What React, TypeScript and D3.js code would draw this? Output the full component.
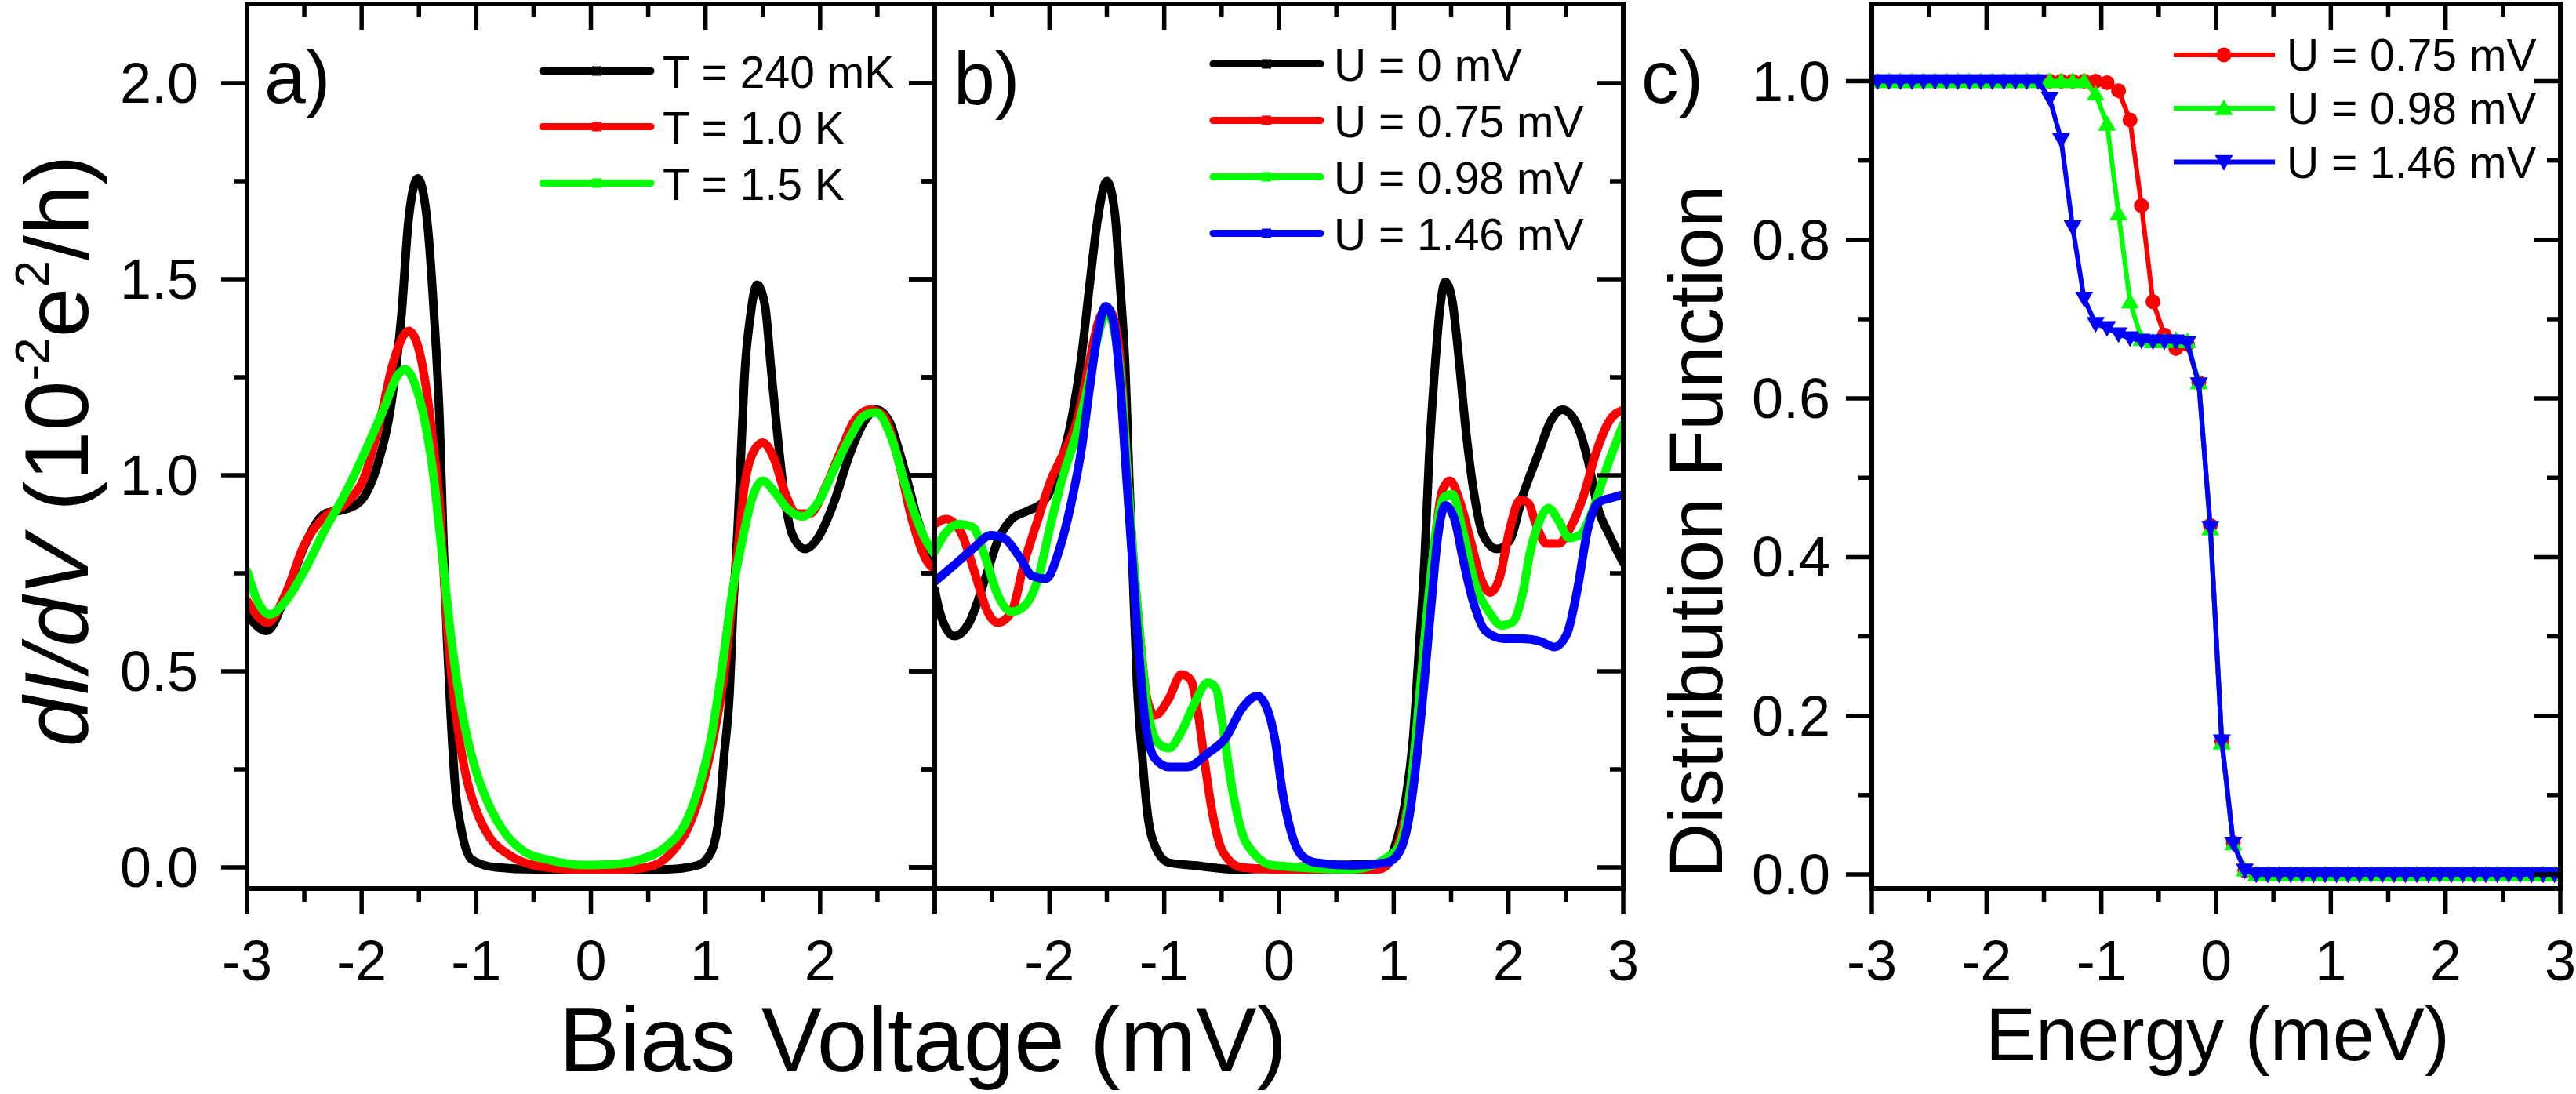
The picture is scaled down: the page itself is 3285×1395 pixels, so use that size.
import React from 'react';
import * as d3 from 'd3';

// ---------------- data ----------------
// axis ticks
const biasMajor = [-3, -2, -1, 0, 1, 2, 3];
const biasMinor = [-2.5, -1.5, -0.5, 0.5, 1.5, 2.5];
const labelsA = [-3, -2, -1, 0, 1, 2];
const labelsB = [-2, -1, 0, 1, 2, 3];
const labelsC = [-3, -2, -1, 0, 1, 2, 3];
const gMajor = [0, 0.5, 1.0, 1.5, 2.0];
const gMinor = [0.25, 0.75, 1.25, 1.75];
const fMajor = [0, 0.2, 0.4, 0.6, 0.8, 1.0];
const fMinor = [0.1, 0.3, 0.5, 0.7, 0.9];

// panel a) temperature series
const aV_240 = [-3.0, -2.83, -2.66, -2.5, -2.32, -2.13, -2.0, -1.86, -1.75, -1.65, -1.59, -1.51, -1.43, -1.37, -1.32, -1.29, -1.255, -1.22, -1.18, -1.13, -1.04, -0.83, -0.49, 0.0, 0.66, 0.93, 1.05, 1.12, 1.16, 1.21, 1.24, 1.28, 1.31, 1.34, 1.39, 1.45, 1.52, 1.57, 1.63, 1.69, 1.76, 1.87, 1.98, 2.12, 2.26, 2.39, 2.49, 2.6, 2.71, 2.85, 2.96, 3.0];
const aG_240 = [0.645, 0.603, 0.694, 0.819, 0.902, 0.914, 0.937, 1.028, 1.167, 1.417, 1.653, 1.757, 1.653, 1.417, 1.139, 0.861, 0.583, 0.374, 0.193, 0.096, 0.02, 0.0, -0.005, -0.005, -0.005, 0.005, 0.04, 0.138, 0.277, 0.444, 0.652, 0.861, 1.055, 1.25, 1.403, 1.486, 1.431, 1.278, 1.097, 0.944, 0.847, 0.812, 0.84, 0.93, 1.055, 1.139, 1.167, 1.139, 1.041, 0.888, 0.791, 0.756];
const aV_1K = [-3.0, -2.82, -2.66, -2.5, -2.32, -2.13, -1.97, -1.84, -1.72, -1.59, -1.5, -1.43, -1.37, -1.31, -1.27, -1.21, -1.15, -1.08, -0.99, -0.88, -0.72, -0.49, -0.15, 0.32, 0.55, 0.71, 0.84, 0.96, 1.07, 1.16, 1.23, 1.29, 1.34, 1.41, 1.5, 1.6, 1.69, 1.8, 1.91, 2.05, 2.17, 2.3, 2.44, 2.55, 2.67, 2.8, 2.94, 3.0];
const aG_1K = [0.68, 0.624, 0.7, 0.823, 0.895, 0.93, 1.0, 1.139, 1.292, 1.368, 1.32, 1.208, 1.069, 0.888, 0.68, 0.471, 0.332, 0.221, 0.138, 0.075, 0.033, 0.005, -0.005, -0.005, 0.005, 0.04, 0.096, 0.193, 0.332, 0.485, 0.666, 0.833, 0.972, 1.055, 1.083, 1.041, 0.958, 0.902, 0.902, 0.972, 1.055, 1.139, 1.167, 1.153, 1.055, 0.888, 0.777, 0.76];
const aV_15K = [-3.0, -2.91, -2.8, -2.66, -2.5, -2.32, -2.16, -2.0, -1.81, -1.68, -1.62, -1.54, -1.45, -1.38, -1.31, -1.24, -1.18, -1.11, -1.02, -0.9, -0.77, -0.58, -0.38, -0.04, 0.2, 0.43, 0.66, 0.82, 0.93, 1.05, 1.14, 1.23, 1.32, 1.41, 1.5, 1.6, 1.71, 1.85, 1.98, 2.12, 2.26, 2.39, 2.49, 2.62, 2.76, 2.9, 3.0];
const aG_15K = [0.756, 0.68, 0.645, 0.68, 0.756, 0.861, 0.944, 1.041, 1.167, 1.257, 1.27, 1.236, 1.139, 1.014, 0.833, 0.638, 0.499, 0.374, 0.263, 0.166, 0.096, 0.04, 0.02, 0.006, 0.008, 0.02, 0.054, 0.11, 0.193, 0.332, 0.499, 0.694, 0.833, 0.944, 0.986, 0.958, 0.916, 0.895, 0.93, 1.014, 1.097, 1.153, 1.16, 1.097, 0.958, 0.847, 0.798];

// panel b) bias-U series
const bV_0 = [-3.0, -2.95, -2.83, -2.7, -2.56, -2.45, -2.33, -2.19, -2.06, -1.92, -1.81, -1.72, -1.65, -1.58, -1.5, -1.43, -1.385, -1.34, -1.306, -1.27, -1.237, -1.19, -1.146, -1.08, -0.96, -0.74, -0.39, 0.42, 0.94, 1.01, 1.1, 1.17, 1.22, 1.27, 1.31, 1.36, 1.405, 1.45, 1.51, 1.565, 1.62, 1.69, 1.78, 1.9, 2.01, 2.12, 2.26, 2.37, 2.47, 2.58, 2.69, 2.78, 2.88, 3.0];
const bG_0 = [0.708, 0.645, 0.59, 0.624, 0.736, 0.833, 0.888, 0.909, 0.93, 1.014, 1.139, 1.306, 1.486, 1.653, 1.75, 1.667, 1.486, 1.278, 1.0, 0.722, 0.471, 0.277, 0.138, 0.054, 0.012, 0.005, -0.005, 0.005, 0.01, 0.054, 0.166, 0.332, 0.555, 0.791, 1.055, 1.278, 1.431, 1.493, 1.445, 1.306, 1.139, 0.972, 0.847, 0.812, 0.833, 0.944, 1.055, 1.139, 1.167, 1.139, 1.041, 0.916, 0.847, 0.777];
const bV_075 = [-3.0, -2.9, -2.76, -2.65, -2.54, -2.45, -2.33, -2.22, -2.1, -1.99, -1.88, -1.76, -1.65, -1.56, -1.49, -1.42, -1.36, -1.32, -1.27, -1.21, -1.15, -1.08, -0.96, -0.85, -0.77, -0.71, -0.645, -0.58, -0.49, -0.33, -0.05, 0.87, 0.98, 1.075, 1.17, 1.235, 1.3, 1.36, 1.42, 1.49, 1.58, 1.67, 1.76, 1.84, 1.92, 2.01, 2.1, 2.17, 2.24, 2.33, 2.44, 2.53, 2.65, 2.76, 2.88, 3.0];
const bG_075 = [0.875, 0.888, 0.847, 0.75, 0.652, 0.624, 0.652, 0.777, 0.888, 0.986, 1.055, 1.139, 1.292, 1.403, 1.424, 1.375, 1.208, 1.0, 0.791, 0.583, 0.43, 0.388, 0.43, 0.492, 0.478, 0.402, 0.263, 0.138, 0.04, 0.0, -0.005, -0.005, 0.02, 0.096, 0.249, 0.444, 0.652, 0.833, 0.958, 0.986, 0.93, 0.833, 0.736, 0.701, 0.736, 0.861, 0.937, 0.93, 0.875, 0.826, 0.826, 0.861, 0.944, 1.055, 1.139, 1.167];
const bV_098 = [-3.0, -2.92, -2.79, -2.67, -2.56, -2.45, -2.33, -2.22, -2.1, -1.99, -1.88, -1.76, -1.65, -1.56, -1.5, -1.44, -1.37, -1.32, -1.27, -1.21, -1.15, -1.055, -0.96, -0.85, -0.74, -0.62, -0.55, -0.49, -0.42, -0.33, -0.21, -0.05, 0.64, 1.01, 1.1, 1.17, 1.235, 1.3, 1.37, 1.44, 1.51, 1.6, 1.71, 1.83, 1.94, 2.03, 2.12, 2.19, 2.26, 2.35, 2.44, 2.53, 2.62, 2.74, 2.85, 3.0];
const bG_098 = [0.805, 0.847, 0.875, 0.868, 0.791, 0.694, 0.652, 0.666, 0.736, 0.875, 1.0, 1.111, 1.25, 1.375, 1.417, 1.375, 1.22, 1.0, 0.791, 0.583, 0.416, 0.318, 0.304, 0.346, 0.416, 0.471, 0.457, 0.36, 0.221, 0.096, 0.033, 0.005, -0.005, 0.04, 0.11, 0.263, 0.471, 0.68, 0.861, 0.944, 0.951, 0.861, 0.722, 0.652, 0.617, 0.624, 0.694, 0.805, 0.875, 0.916, 0.882, 0.84, 0.847, 0.916, 1.014, 1.13];
const bV_146 = [-3.0, -2.83, -2.67, -2.51, -2.4, -2.26, -2.15, -2.03, -1.92, -1.81, -1.72, -1.65, -1.58, -1.51, -1.44, -1.385, -1.33, -1.28, -1.226, -1.16, -1.08, -0.96, -0.8, -0.62, -0.46, -0.33, -0.19, -0.1, -0.03, 0.03, 0.1, 0.19, 0.32, 0.64, 0.94, 1.05, 1.14, 1.21, 1.27, 1.33, 1.38, 1.45, 1.53, 1.6, 1.69, 1.8, 1.96, 2.12, 2.28, 2.4, 2.51, 2.6, 2.69, 2.78, 2.92, 3.0];
const bG_146 = [0.729, 0.771, 0.812, 0.847, 0.84, 0.791, 0.743, 0.736, 0.805, 0.93, 1.069, 1.222, 1.361, 1.431, 1.389, 1.236, 1.0, 0.791, 0.569, 0.36, 0.277, 0.256, 0.256, 0.291, 0.332, 0.402, 0.437, 0.402, 0.318, 0.193, 0.096, 0.033, 0.012, 0.005, 0.012, 0.04, 0.138, 0.304, 0.485, 0.68, 0.833, 0.923, 0.888, 0.791, 0.68, 0.603, 0.583, 0.583, 0.576, 0.562, 0.596, 0.708, 0.861, 0.93, 0.944, 0.951];

// panel c) distribution functions (energy grid + three series)
const cE = [-2.95, -2.85, -2.75, -2.65, -2.55, -2.45, -2.35, -2.25, -2.15, -2.05, -1.95, -1.85, -1.75, -1.65, -1.55, -1.45, -1.35, -1.25, -1.15, -1.05, -0.95, -0.85, -0.75, -0.65, -0.55, -0.45, -0.35, -0.25, -0.15, -0.05, 0.05, 0.15, 0.25, 0.35, 0.45, 0.55, 0.65, 0.75, 0.85, 0.95, 1.05, 1.15, 1.25, 1.35, 1.45, 1.55, 1.65, 1.75, 1.85, 1.95, 2.05, 2.15, 2.25, 2.35, 2.45, 2.55, 2.65, 2.75, 2.85, 2.95];
const cF_075 = [
  1, 1, 1, 1, 1, 1, 1, 1, 1, 1, 1, 1, 1, 1, 1, 1, 1, 1, 1, 1,
  0.998, 0.988, 0.951, 0.843, 0.722, 0.68, 0.663, 0.668, 0.62, 0.44, 0.168, 0.04, 0.005,
  0, 0, 0, 0, 0, 0, 0, 0, 0, 0, 0, 0, 0, 0, 0, 0, 0, 0, 0, 0, 0, 0, 0, 0, 0, 0, 0,
];
const cF_098 = [
  1, 1, 1, 1, 1, 1, 1, 1, 1, 1, 1, 1, 1, 1, 1, 1, 1, 1, 1,
  0.984, 0.946, 0.833, 0.722, 0.675, 0.672, 0.672, 0.674, 0.672, 0.62, 0.436, 0.166, 0.039, 0.006,
  0, 0, 0, 0, 0, 0, 0, 0, 0, 0, 0, 0, 0, 0, 0, 0, 0, 0, 0, 0, 0, 0, 0, 0, 0, 0, 0,
];
const cF_146 = [
  1, 1, 1, 1, 1, 1, 1, 1, 1, 1, 1, 1, 1, 1, 1,
  0.978, 0.926, 0.816, 0.726, 0.694, 0.689, 0.681, 0.676, 0.673, 0.672, 0.672, 0.672, 0.67, 0.618, 0.437, 0.168, 0.039, 0.005,
  0, 0, 0, 0, 0, 0, 0, 0, 0, 0, 0, 0, 0, 0, 0, 0, 0, 0, 0, 0, 0, 0, 0, 0, 0, 0, 0,
];

const legendA = ['T = 240 mK', 'T = 1.0 K', 'T = 1.5 K'];
const legendB = ['U = 0 mV', 'U = 0.75 mV', 'U = 0.98 mV', 'U = 1.46 mV'];
const legendC = ['U = 0.75 mV', 'U = 0.98 mV', 'U = 1.46 mV'];

const BLACK = '#000000';
const RED = '#ff0000';
const GREEN = '#00ff00';
const BLUE = '#0000ff';

const FONT = '"Liberation Sans", Arial, Helvetica, sans-serif';
const TOP = 5;
const BOTTOM = 1133;

const zip = (xs: number[], ys: number[]) => xs.map((x, i) => [x, ys[i]] as [number, number]);

function Frame({ x0, x1, xs, ys, yMaj, yMin, xLabels, yLabelFmt, yLabelX, showYLabels }: any) {
  const MAJ = 33, MIN = 17, SW = 5.5;
  const els: any[] = [];
  biasMajor.forEach((v, i) => {
    const x = xs(v);
    els.push(<line key={'bM' + i} x1={x} x2={x} y1={BOTTOM} y2={BOTTOM + MAJ} />);
    if (v > -3 && v < 3) els.push(<line key={'tM' + i} x1={x} x2={x} y1={TOP} y2={TOP + MAJ} />);
  });
  biasMinor.forEach((v, i) => {
    const x = xs(v);
    els.push(<line key={'bm' + i} x1={x} x2={x} y1={BOTTOM} y2={BOTTOM + MIN} />);
    els.push(<line key={'tm' + i} x1={x} x2={x} y1={TOP} y2={TOP + MIN} />);
  });
  yMaj.forEach((v: number, i: number) => {
    const y = ys(v);
    els.push(<line key={'lM' + i} x1={x0 - MAJ} x2={x0} y1={y} y2={y} />);
    els.push(<line key={'rM' + i} x1={x1 - MAJ} x2={x1} y1={y} y2={y} />);
  });
  yMin.forEach((v: number, i: number) => {
    const y = ys(v);
    els.push(<line key={'lm' + i} x1={x0 - MIN} x2={x0} y1={y} y2={y} />);
    els.push(<line key={'rm' + i} x1={x1 - MIN} x2={x1} y1={y} y2={y} />);
  });
  return (
    <g>
      <g stroke={BLACK} strokeWidth={SW}>{els}</g>
      <rect x={x0} y={TOP} width={x1 - x0} height={BOTTOM - TOP} fill="none" stroke={BLACK} strokeWidth={6} />
      <g fontFamily={FONT} fontSize={72} fill={BLACK} textAnchor="middle">
        {xLabels.map((v: number) => (
          <text key={'xl' + v} x={xs(v)} y={1250}>{String(v)}</text>
        ))}
      </g>
      {showYLabels && (
        <g fontFamily={FONT} fontSize={72} fill={BLACK} textAnchor="end">
          {yMaj.map((v: number) => (
            <text key={'yl' + v} x={yLabelX} y={ys(v) + 25}>{yLabelFmt(v)}</text>
          ))}
        </g>
      )}
    </g>
  );
}

export default function App() {
  const xA = d3.scaleLinear().domain([-3, 3]).range([315, 1192]);
  const xB = d3.scaleLinear().domain([-3, 3]).range([1192, 2070]);
  const xC = d3.scaleLinear().domain([-3, 3]).range([2387, 3265]);
  const yG = d3.scaleLinear().domain([0, 2]).range([1106, 106]);
  const yF = d3.scaleLinear().domain([0, 1]).range([1115, 103.5]);
  const fmt = d3.format('.1f');

  const lineA = d3.line<[number, number]>().x((d) => xA(d[0])).y((d) => yG(d[1])).curve(d3.curveMonotoneX);
  const lineB = d3.line<[number, number]>().x((d) => xB(d[0])).y((d) => yG(d[1])).curve(d3.curveMonotoneX);
  const lineC = d3.line<[number, number]>().x((d) => xC(d[0])).y((d) => yF(d[1]));

  const seriesA = [
    { d: zip(aV_240, aG_240), c: BLACK },
    { d: zip(aV_1K, aG_1K), c: RED },
    { d: zip(aV_15K, aG_15K), c: GREEN },
  ];
  const seriesB = [
    { d: zip(bV_0, bG_0), c: BLACK },
    { d: zip(bV_075, bG_075), c: RED },
    { d: zip(bV_098, bG_098), c: GREEN },
    { d: zip(bV_146, bG_146), c: BLUE },
  ];
  const seriesC = [
    { d: zip(cE, cF_075), c: RED, m: 'circle' },
    { d: zip(cE, cF_098), c: GREEN, m: 'up' },
    { d: zip(cE, cF_146), c: BLUE, m: 'down' },
  ];
  const tri = d3.symbol().type(d3.symbolTriangle).size(230)() as string;

  const marker = (m: string, x: number, y: number, c: string, k: string) => {
    if (m === 'circle') return <circle key={k} cx={x} cy={y} r={9.5} fill={c} />;
    if (m === 'up') return <path key={k} d={tri} transform={`translate(${x},${y + 2})`} fill={c} />;
    return <path key={k} d={tri} transform={`translate(${x},${y - 2}) rotate(180)`} fill={c} />;
  };

  const legendRowsA = [90.5, 161.5, 233.5];
  const legendRowsB = [81.5, 153.5, 225.5, 297.5];
  const legendRowsC = [70, 138, 206.5];

  return (
    <svg width={3285} height={1395} style={{ position: 'absolute', left: 0, top: 0, background: '#fff', display: 'block' }}>
      <rect x={0} y={0} width={3285} height={1395} fill="#fff" />
      <defs>
        <clipPath id="clipA"><rect x={315} y={TOP} width={877} height={BOTTOM - TOP} /></clipPath>
        <clipPath id="clipB"><rect x={1192} y={TOP} width={878} height={BOTTOM - TOP} /></clipPath>
        <clipPath id="clipC"><rect x={2377} y={TOP} width={898} height={BOTTOM - TOP} /></clipPath>
      </defs>

      {/* curves */}
      <g clipPath="url(#clipA)" fill="none" strokeWidth={11} strokeLinejoin="round" strokeLinecap="round">
        {seriesA.map((s, i) => <path key={i} d={lineA(s.d) as string} stroke={s.c} />)}
      </g>
      <g clipPath="url(#clipB)" fill="none" strokeWidth={11} strokeLinejoin="round" strokeLinecap="round">
        {seriesB.map((s, i) => <path key={i} d={lineB(s.d) as string} stroke={s.c} />)}
      </g>
      <g clipPath="url(#clipC)">
        {seriesC.map((s, i) => (
          <g key={i}>
            <path d={lineC(s.d) as string} fill="none" stroke={s.c} strokeWidth={6} strokeLinejoin="round" />
            {s.d.map((p, j) => marker(s.m, xC(p[0]), yF(p[1]), s.c, 'm' + j))}
          </g>
        ))}
      </g>

      {/* frames, ticks, tick labels */}
      <Frame x0={315} x1={1192} xs={xA} ys={yG} yMaj={gMajor} yMin={gMinor} xLabels={labelsA} yLabelFmt={fmt} yLabelX={253} showYLabels />
      <Frame x0={1192} x1={2070} xs={xB} ys={yG} yMaj={gMajor} yMin={gMinor} xLabels={labelsB} yLabelFmt={fmt} yLabelX={0} showYLabels={false} />
      <Frame x0={2387} x1={3265} xs={xC} ys={yF} yMaj={fMajor} yMin={fMinor} xLabels={labelsC} yLabelFmt={fmt} yLabelX={2334} showYLabels />

      {/* panel labels */}
      <g fontFamily={FONT} fontSize={95} fill={BLACK}>
        <text x={337} y={131}>a)</text>
        <text x={1216} y={133}>b)</text>
        <text x={2093} y={131}>c)</text>
      </g>

      {/* legends */}
      <g fontFamily={FONT} fontSize={57} fill={BLACK}>
        {legendA.map((t, i) => (
          <g key={'la' + i}>
            <line x1={692} x2={830} y1={legendRowsA[i]} y2={legendRowsA[i]} stroke={seriesA[i].c} strokeWidth={9} strokeLinecap="round" />
            <rect x={755} y={legendRowsA[i] - 6} width={12} height={12} fill={seriesA[i].c} />
            <text x={845} y={legendRowsA[i] + 21}>{t}</text>
          </g>
        ))}
        {legendB.map((t, i) => (
          <g key={'lb' + i}>
            <line x1={1547} x2={1684} y1={legendRowsB[i]} y2={legendRowsB[i]} stroke={seriesB[i].c} strokeWidth={9} strokeLinecap="round" />
            <rect x={1609} y={legendRowsB[i] - 6} width={12} height={12} fill={seriesB[i].c} />
            <text x={1701} y={legendRowsB[i] + 21}>{t}</text>
          </g>
        ))}
        {legendC.map((t, i) => (
          <g key={'lc' + i}>
            <line x1={2772} x2={2901} y1={legendRowsC[i]} y2={legendRowsC[i]} stroke={seriesC[i].c} strokeWidth={6} />
            {marker(seriesC[i].m, 2836, legendRowsC[i], seriesC[i].c, 'lm' + i)}
            <text x={2916} y={legendRowsC[i] + 20}>{t}</text>
          </g>
        ))}
      </g>

      {/* axis titles */}
      <g fontFamily={FONT} fill={BLACK}>
        <text x={1177} y={1366} fontSize={116} textAnchor="middle">Bias Voltage (mV)</text>
        <text x={2828} y={1352} fontSize={96} textAnchor="middle">Energy (meV)</text>
        <text transform="translate(2196,678) rotate(-90)" fontSize={97} textAnchor="middle">Distribution Function</text>
        <text transform="translate(112,575) rotate(-90)" fontSize={115} textAnchor="middle">
          <tspan fontStyle="italic">dI/dV</tspan>
          <tspan>{' (10'}</tspan>
          <tspan fontSize={62} dy={-50}>-2</tspan>
          <tspan dy={50}>e</tspan>
          <tspan fontSize={62} dy={-50}>2</tspan>
          <tspan dy={50}>/h)</tspan>
        </text>
      </g>
    </svg>
  );
}
